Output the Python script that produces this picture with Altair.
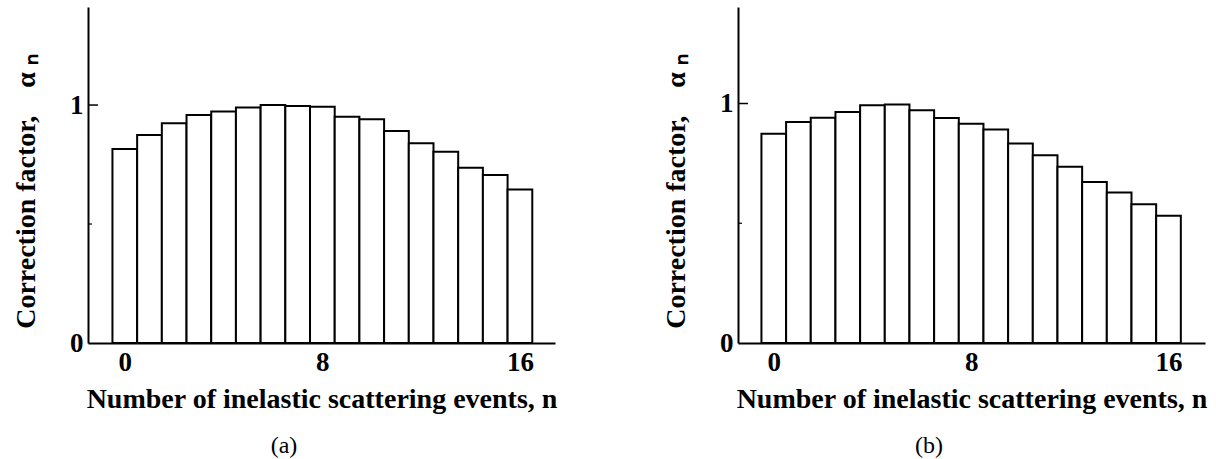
import altair as alt
import pandas as pd

# ---- data ----
n_values = list(range(17))
alpha_a = [0.815, 0.874, 0.923, 0.958, 0.973, 0.990, 1.000, 0.996, 0.993,
           0.951, 0.940, 0.891, 0.839, 0.804, 0.736, 0.706, 0.645]
alpha_b = [0.874, 0.923, 0.941, 0.965, 0.993, 0.996, 0.972, 0.940, 0.916,
           0.891, 0.833, 0.784, 0.736, 0.672, 0.628, 0.579, 0.531]
x_tick_values = [0, 8, 16]
y_tick_values = [0, 1]
y_inner_ticks = [1.0]
y_half_ticks = [0.5]
panel_labels = ["(a)", "(b)"]

X_TITLE = "Number of inelastic scattering events, n"
Y_TITLE = "Correction factor,\u00a0\u00a0\u00a0\u00a0\u03b1\u00a0\u2099"
FONT = "Liberation Serif"

W, H = 467, 336


def panel(values, label, x_domain, y_top, label_dx):
    df = pd.DataFrame({"n": n_values, "a": values})
    base = alt.Chart(df).transform_calculate(
        x0="datum.n - 0.5", x1="datum.n + 0.5"
    )
    xscale = alt.Scale(domain=x_domain, nice=False, zero=False)
    yscale = alt.Scale(domain=[0, y_top], nice=False)
    bars = base.mark_rect(
        fill="white", stroke="black", strokeWidth=2, strokeJoin="miter"
    ).encode(
        x=alt.X(
            "x0:Q",
            scale=xscale,
            axis=alt.Axis(
                values=x_tick_values,
                format="d",
                title=X_TITLE,
                titleY=64,
                titleBaseline="alphabetic",
                labelBaseline="alphabetic",
                labelPadding=27,
                labelFlush=False,
            ),
        ),
        x2="x1:Q",
        y=alt.Y(
            "a:Q",
            scale=yscale,
            axis=alt.Axis(
                values=y_tick_values,
                format="d",
                title=Y_TITLE,
                titleAngle=270,
                titleX=-54,
                titleY=184,
                titleAlign="center",
                titleBaseline="alphabetic",
                labelPadding=5,
                labelFlush=False,
            ),
        ),
        y2=alt.datum(0),
    )
    tick1 = alt.Chart(pd.DataFrame({"t": y_inner_ticks})).mark_rule(
        color="black", strokeWidth=1.5
    ).encode(
        y=alt.Y("t:Q", scale=yscale), x=alt.value(0), x2=alt.value(10)
    )
    tick_half = alt.Chart(pd.DataFrame({"t": y_half_ticks})).mark_rule(
        color="black", strokeWidth=1.2
    ).encode(
        y=alt.Y("t:Q", scale=yscale), x=alt.value(0), x2=alt.value(4)
    )
    txt = alt.Chart(pd.DataFrame({"lab": [label]})).mark_text(
        font=FONT, fontSize=24, color="black", align="center", baseline="alphabetic"
    ).encode(text="lab:N", x=alt.value(label_dx), y=alt.value(446))
    return alt.layer(bars, tick1, tick_half, txt).properties(width=W, height=H)


pa = panel(alpha_a, panel_labels[0], [-1.49, 17.42], 1.412, 196)
pb = panel(alpha_b, panel_labels[1], [-1.45, 17.48], 1.403, 191)

chart = alt.hconcat(pa, pb, spacing=183, bounds="flush").properties(
    padding={"left": 11, "top": 7, "right": 5, "bottom": 0},
    background="white",
).configure_view(
    strokeWidth=0
).configure_axis(
    grid=False,
    ticks=False,
    domainColor="black",
    domainWidth=2,
    labelFont=FONT,
    labelFontSize=27,
    labelFontWeight="bold",
    labelColor="black",
    titleFont=FONT,
    titleFontSize=28,
    titleFontWeight="bold",
    titleColor="black",
)

chart.save("out.html", embed_options={"renderer": "svg", "actions": False})
